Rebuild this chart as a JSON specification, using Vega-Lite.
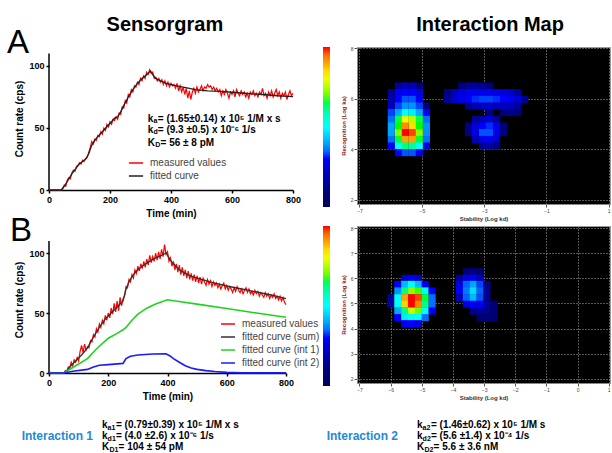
{
"$schema":"https://vega.github.io/schema/vega-lite/v6.json",
"usermeta":{"embedOptions":{"actions":false}},
"background":"white",
"padding":{"left":7,"top":14,"right":0,"bottom":0},
"columns":2,
"bounds":"flush",
"spacing":{"row":22,"column":64},
"resolve":{"scale":{"color":"independent","stroke":"independent"},"legend":{"color":"independent","stroke":"independent"}},
"config":{
 "font":"Liberation Sans",
 "view":{"stroke":null},
 "axis":{"labelFontSize":9,"labelFontWeight":"bold","labelColor":"#000","titleFontSize":10,"titleFontWeight":"bold","titleColor":"#000","domainColor":"#000","domainWidth":1.5,"tickColor":"#000","tickWidth":1.5,"tickSize":3,"labelPadding":2,"titlePadding":4,"grid":false,"labelFlush":false}
},
"datasets":{
"aMeas":[{"t":0,"c":0},{"t":5,"c":0},{"t":10,"c":0},{"t":15,"c":0},{"t":20,"c":0},{"t":25,"c":0},{"t":30,"c":0},{"t":35,"c":0},{"t":40,"c":0},{"t":45,"c":1},{"t":50,"c":4},{"t":55,"c":3},{"t":60,"c":8},{"t":65,"c":10},{"t":70,"c":9},{"t":75,"c":14},{"t":80,"c":16},{"t":85,"c":15},{"t":90,"c":19},{"t":95,"c":20},{"t":100,"c":22},{"t":105,"c":21},{"t":110,"c":24},{"t":115,"c":23},{"t":120,"c":25},{"t":125,"c":26},{"t":130,"c":30},{"t":135,"c":34},{"t":140,"c":39},{"t":145,"c":37},{"t":150,"c":41},{"t":155,"c":40},{"t":160,"c":44},{"t":165,"c":43},{"t":170,"c":47},{"t":175,"c":45},{"t":180,"c":50},{"t":185,"c":48},{"t":190,"c":53},{"t":195,"c":51},{"t":200,"c":55},{"t":205,"c":53},{"t":210,"c":57},{"t":215,"c":56},{"t":220,"c":59},{"t":225,"c":57},{"t":230,"c":62},{"t":235,"c":61},{"t":240,"c":67},{"t":245,"c":66},{"t":250,"c":72},{"t":255,"c":70},{"t":260,"c":77},{"t":265,"c":75},{"t":270,"c":81},{"t":275,"c":79},{"t":280,"c":84},{"t":285,"c":83},{"t":290,"c":87},{"t":295,"c":85},{"t":300,"c":90},{"t":305,"c":88},{"t":310,"c":92},{"t":315,"c":90},{"t":320,"c":95},{"t":325,"c":93},{"t":330,"c":97},{"t":335,"c":94},{"t":340,"c":95},{"t":345,"c":90},{"t":350,"c":91},{"t":355,"c":88},{"t":360,"c":90},{"t":365,"c":87},{"t":370,"c":89},{"t":375,"c":85},{"t":380,"c":88},{"t":385,"c":84},{"t":390,"c":87},{"t":395,"c":83},{"t":400,"c":86},{"t":405,"c":84},{"t":410,"c":85},{"t":415,"c":82},{"t":420,"c":86},{"t":425,"c":80},{"t":430,"c":84},{"t":435,"c":79},{"t":440,"c":83},{"t":445,"c":77},{"t":450,"c":82},{"t":455,"c":74},{"t":460,"c":80},{"t":465,"c":73},{"t":470,"c":79},{"t":475,"c":82},{"t":480,"c":78},{"t":485,"c":83},{"t":490,"c":79},{"t":495,"c":81},{"t":500,"c":84},{"t":505,"c":80},{"t":510,"c":83},{"t":515,"c":82},{"t":520,"c":85},{"t":525,"c":83},{"t":530,"c":84},{"t":535,"c":81},{"t":540,"c":83},{"t":545,"c":80},{"t":550,"c":82},{"t":555,"c":79},{"t":560,"c":81},{"t":565,"c":76},{"t":570,"c":80},{"t":575,"c":77},{"t":580,"c":81},{"t":585,"c":78},{"t":590,"c":74},{"t":595,"c":79},{"t":600,"c":77},{"t":605,"c":80},{"t":610,"c":75},{"t":615,"c":81},{"t":620,"c":78},{"t":625,"c":76},{"t":630,"c":80},{"t":635,"c":77},{"t":640,"c":79},{"t":645,"c":75},{"t":650,"c":78},{"t":655,"c":74},{"t":660,"c":79},{"t":665,"c":77},{"t":670,"c":80},{"t":675,"c":76},{"t":680,"c":78},{"t":685,"c":75},{"t":690,"c":79},{"t":695,"c":77},{"t":700,"c":82},{"t":705,"c":76},{"t":710,"c":78},{"t":715,"c":74},{"t":720,"c":79},{"t":725,"c":76},{"t":730,"c":80},{"t":735,"c":75},{"t":740,"c":78},{"t":745,"c":81},{"t":750,"c":76},{"t":755,"c":79},{"t":760,"c":74},{"t":765,"c":78},{"t":770,"c":76},{"t":775,"c":79},{"t":780,"c":73},{"t":785,"c":77},{"t":790,"c":80},{"t":795,"c":76},{"t":800,"c":78}],
"aFit":[{"t":0,"c":0},{"t":40,"c":0},{"t":50,"c":3},{"t":60,"c":7},{"t":75,"c":13},{"t":90,"c":18},{"t":100,"c":21},{"t":110,"c":23},{"t":120,"c":25},{"t":130,"c":29},{"t":140,"c":36},{"t":150,"c":40},{"t":160,"c":43},{"t":175,"c":47},{"t":190,"c":51},{"t":205,"c":55},{"t":215,"c":58},{"t":225,"c":59},{"t":235,"c":63},{"t":245,"c":68},{"t":260,"c":75},{"t":275,"c":81},{"t":290,"c":86},{"t":305,"c":90},{"t":320,"c":93},{"t":333,"c":96},{"t":340,"c":93},{"t":350,"c":90},{"t":365,"c":88},{"t":385,"c":86},{"t":410,"c":84.3},{"t":440,"c":83},{"t":480,"c":81},{"t":520,"c":80},{"t":560,"c":79.5},{"t":600,"c":78.8},{"t":650,"c":77.8},{"t":700,"c":77},{"t":750,"c":76},{"t":800,"c":75.3}],
"annA":[{"t":324,"c":57.3,"m":"k","sub":"a","rest":" = (1.65±0.14) x 10⁵ 1/M x s"},{"t":324,"c":48.4,"m":"k","sub":"d","rest":" = (9.3 ±0.5) x 10⁻⁶ 1/s"},{"t":324,"c":37.9,"m":"K","sub":"D","rest":" = 56 ± 8 pM"}],
"bMeas":[{"t":0,"c":2},{"t":5,"c":0},{"t":10,"c":0},{"t":15,"c":0},{"t":20,"c":0},{"t":25,"c":0},{"t":30,"c":0},{"t":35,"c":0},{"t":40,"c":0},{"t":45,"c":0},{"t":50,"c":0},{"t":55,"c":2},{"t":60,"c":1},{"t":65,"c":5},{"t":70,"c":4},{"t":75,"c":9},{"t":80,"c":6},{"t":85,"c":11},{"t":90,"c":9},{"t":95,"c":13},{"t":100,"c":10},{"t":105,"c":18},{"t":110,"c":23},{"t":115,"c":17},{"t":120,"c":24},{"t":125,"c":19},{"t":130,"c":22},{"t":135,"c":21},{"t":140,"c":27},{"t":145,"c":26},{"t":150,"c":32},{"t":155,"c":30},{"t":160,"c":37},{"t":165,"c":34},{"t":170,"c":41},{"t":175,"c":38},{"t":180,"c":44},{"t":185,"c":41},{"t":190,"c":48},{"t":195,"c":44},{"t":200,"c":50},{"t":205,"c":46},{"t":210,"c":54},{"t":215,"c":49},{"t":220,"c":58},{"t":225,"c":51},{"t":230,"c":60},{"t":235,"c":52},{"t":240,"c":63},{"t":245,"c":56},{"t":250,"c":62},{"t":255,"c":64},{"t":260,"c":72},{"t":265,"c":71},{"t":270,"c":78},{"t":275,"c":76},{"t":280,"c":82},{"t":285,"c":79},{"t":290,"c":86},{"t":295,"c":83},{"t":300,"c":89},{"t":305,"c":85},{"t":310,"c":91},{"t":315,"c":87},{"t":320,"c":93},{"t":325,"c":88},{"t":330,"c":95},{"t":335,"c":90},{"t":340,"c":98},{"t":345,"c":92},{"t":350,"c":97},{"t":355,"c":93},{"t":360,"c":100},{"t":365,"c":94},{"t":370,"c":101},{"t":375,"c":95},{"t":380,"c":103},{"t":385,"c":97},{"t":390,"c":107},{"t":395,"c":99},{"t":400,"c":101},{"t":405,"c":93},{"t":410,"c":96},{"t":415,"c":89},{"t":420,"c":93},{"t":425,"c":86},{"t":430,"c":91},{"t":435,"c":84},{"t":440,"c":90},{"t":445,"c":82},{"t":450,"c":88},{"t":455,"c":81},{"t":460,"c":86},{"t":465,"c":79},{"t":470,"c":85},{"t":475,"c":78},{"t":480,"c":83},{"t":485,"c":77},{"t":490,"c":82},{"t":495,"c":76},{"t":500,"c":81},{"t":505,"c":75},{"t":510,"c":80},{"t":515,"c":74},{"t":520,"c":79},{"t":525,"c":76},{"t":530,"c":73},{"t":535,"c":78},{"t":540,"c":74},{"t":545,"c":77},{"t":550,"c":72},{"t":555,"c":76},{"t":560,"c":73},{"t":565,"c":75},{"t":570,"c":71},{"t":575,"c":74},{"t":580,"c":70},{"t":585,"c":73},{"t":590,"c":75},{"t":595,"c":70},{"t":600,"c":73},{"t":605,"c":69},{"t":610,"c":72},{"t":615,"c":70},{"t":620,"c":67},{"t":625,"c":71},{"t":630,"c":68},{"t":635,"c":72},{"t":640,"c":69},{"t":645,"c":67},{"t":650,"c":70},{"t":655,"c":66},{"t":660,"c":69},{"t":665,"c":71},{"t":670,"c":67},{"t":675,"c":70},{"t":680,"c":66},{"t":685,"c":68},{"t":690,"c":65},{"t":695,"c":69},{"t":700,"c":66},{"t":705,"c":68},{"t":710,"c":64},{"t":715,"c":67},{"t":720,"c":65},{"t":725,"c":63},{"t":730,"c":67},{"t":735,"c":64},{"t":740,"c":66},{"t":745,"c":62},{"t":750,"c":65},{"t":755,"c":63},{"t":760,"c":66},{"t":765,"c":62},{"t":770,"c":64},{"t":775,"c":61},{"t":780,"c":64},{"t":785,"c":60},{"t":790,"c":63},{"t":795,"c":59},{"t":800,"c":57}],
"bSum":[{"t":0,"c":0},{"t":50,"c":0},{"t":60,"c":2},{"t":70,"c":5},{"t":90,"c":10},{"t":110,"c":15},{"t":130,"c":21},{"t":140,"c":25.5},{"t":150,"c":30},{"t":170,"c":38},{"t":190,"c":45},{"t":210,"c":50},{"t":230,"c":55},{"t":250,"c":60},{"t":255,"c":65},{"t":260,"c":70},{"t":270,"c":76},{"t":285,"c":82},{"t":300,"c":86},{"t":320,"c":90},{"t":340,"c":93},{"t":360,"c":96},{"t":380,"c":98},{"t":395,"c":100},{"t":400,"c":98},{"t":410,"c":94},{"t":420,"c":91},{"t":440,"c":86},{"t":460,"c":83},{"t":480,"c":80.5},{"t":500,"c":79},{"t":550,"c":75.5},{"t":600,"c":72.5},{"t":650,"c":70},{"t":700,"c":67.5},{"t":750,"c":65},{"t":800,"c":62}],
"bInt1":[{"t":0,"c":0},{"t":50,"c":0},{"t":90,"c":6},{"t":130,"c":12},{"t":160,"c":20},{"t":200,"c":29},{"t":230,"c":33},{"t":250,"c":36},{"t":260,"c":38},{"t":280,"c":44},{"t":300,"c":49},{"t":330,"c":54},{"t":360,"c":57.5},{"t":400,"c":61},{"t":450,"c":59.2},{"t":500,"c":57.4},{"t":600,"c":53.7},{"t":700,"c":50},{"t":800,"c":46.5}],
"bInt2":[{"t":0,"c":0},{"t":50,"c":0},{"t":80,"c":1.5},{"t":130,"c":3},{"t":150,"c":5},{"t":170,"c":6.5},{"t":200,"c":7},{"t":250,"c":8},{"t":255,"c":10},{"t":260,"c":12},{"t":275,"c":14},{"t":300,"c":15},{"t":350,"c":15.8},{"t":395,"c":16},{"t":410,"c":14},{"t":420,"c":12},{"t":440,"c":9},{"t":460,"c":6},{"t":480,"c":4.2},{"t":500,"c":3},{"t":530,"c":2},{"t":560,"c":1.2},{"t":600,"c":0.5},{"t":650,"c":0.1},{"t":800,"c":0.1}],
"m1":[{"x":-5.75,"y":6.5,"v":0.15},{"x":-5.53,"y":6.5,"v":0.2},{"x":-5.3,"y":6.5,"v":0.2},{"x":-5.08,"y":6.5,"v":0.12},
{"x":-5.98,"y":6.24,"v":0.15},{"x":-5.75,"y":6.24,"v":0.28},{"x":-5.53,"y":6.24,"v":0.3},{"x":-5.3,"y":6.24,"v":0.3},{"x":-5.08,"y":6.24,"v":0.25},
{"x":-5.98,"y":5.97,"v":0.18},{"x":-5.75,"y":5.97,"v":0.3},{"x":-5.53,"y":5.97,"v":0.33},{"x":-5.3,"y":5.97,"v":0.33},{"x":-5.08,"y":5.97,"v":0.28},
{"x":-5.98,"y":5.71,"v":0.2},{"x":-5.75,"y":5.71,"v":0.32},{"x":-5.53,"y":5.71,"v":0.38},{"x":-5.3,"y":5.71,"v":0.38},{"x":-5.08,"y":5.71,"v":0.32},{"x":-4.85,"y":5.71,"v":0.1},
{"x":-5.98,"y":5.45,"v":0.32},{"x":-5.75,"y":5.45,"v":0.4},{"x":-5.53,"y":5.45,"v":0.5},{"x":-5.3,"y":5.45,"v":0.48},{"x":-5.08,"y":5.45,"v":0.4},{"x":-4.85,"y":5.45,"v":0.3},
{"x":-5.98,"y":5.18,"v":0.35},{"x":-5.75,"y":5.18,"v":0.65},{"x":-5.53,"y":5.18,"v":0.8},{"x":-5.3,"y":5.18,"v":0.75},{"x":-5.08,"y":5.18,"v":0.65},{"x":-4.85,"y":5.18,"v":0.35},
{"x":-5.98,"y":4.92,"v":0.4},{"x":-5.75,"y":4.92,"v":0.67},{"x":-5.53,"y":4.92,"v":0.92},{"x":-5.3,"y":4.92,"v":0.85},{"x":-5.08,"y":4.92,"v":0.67},{"x":-4.85,"y":4.92,"v":0.38},
{"x":-5.98,"y":4.66,"v":0.4},{"x":-5.75,"y":4.66,"v":0.72},{"x":-5.53,"y":4.66,"v":1},{"x":-5.3,"y":4.66,"v":0.98},{"x":-5.08,"y":4.66,"v":0.72},{"x":-4.85,"y":4.66,"v":0.38},
{"x":-5.98,"y":4.39,"v":0.35},{"x":-5.75,"y":4.39,"v":0.66},{"x":-5.53,"y":4.39,"v":0.9},{"x":-5.3,"y":4.39,"v":0.9},{"x":-5.08,"y":4.39,"v":0.66},{"x":-4.85,"y":4.39,"v":0.35},
{"x":-5.98,"y":4.13,"v":0.3},{"x":-5.75,"y":4.13,"v":0.5},{"x":-5.53,"y":4.13,"v":0.62},{"x":-5.3,"y":4.13,"v":0.6},{"x":-5.08,"y":4.13,"v":0.5},{"x":-4.85,"y":4.13,"v":0.25},
{"x":-5.75,"y":3.87,"v":0.3},{"x":-5.53,"y":3.87,"v":0.33},{"x":-5.3,"y":3.87,"v":0.33},{"x":-5.08,"y":3.87,"v":0.28},
{"x":-3.73,"y":6.5,"v":0.1},{"x":-3.5,"y":6.5,"v":0.14},{"x":-3.28,"y":6.5,"v":0.15},{"x":-3.05,"y":6.5,"v":0.14},{"x":-2.83,"y":6.5,"v":0.1},
{"x":-4.18,"y":6.24,"v":0.12},{"x":-3.95,"y":6.24,"v":0.2},{"x":-3.73,"y":6.24,"v":0.25},{"x":-3.5,"y":6.24,"v":0.27},{"x":-3.28,"y":6.24,"v":0.28},{"x":-3.05,"y":6.24,"v":0.28},{"x":-2.83,"y":6.24,"v":0.27},{"x":-2.6,"y":6.24,"v":0.26},{"x":-2.38,"y":6.24,"v":0.25},{"x":-2.15,"y":6.24,"v":0.22},{"x":-1.93,"y":6.24,"v":0.15},
{"x":-4.18,"y":5.97,"v":0.14},{"x":-3.95,"y":5.97,"v":0.22},{"x":-3.73,"y":5.97,"v":0.27},{"x":-3.5,"y":5.97,"v":0.3},{"x":-3.28,"y":5.97,"v":0.31},{"x":-3.05,"y":5.97,"v":0.32},{"x":-2.83,"y":5.97,"v":0.32},{"x":-2.6,"y":5.97,"v":0.31},{"x":-2.38,"y":5.97,"v":0.3},{"x":-2.15,"y":5.97,"v":0.28},{"x":-1.93,"y":5.97,"v":0.24},{"x":-1.7,"y":5.97,"v":0.14},
{"x":-3.5,"y":5.71,"v":0.14},{"x":-3.28,"y":5.71,"v":0.2},{"x":-3.05,"y":5.71,"v":0.22},{"x":-2.83,"y":5.71,"v":0.22},{"x":-2.6,"y":5.71,"v":0.2},{"x":-2.38,"y":5.71,"v":0.2},{"x":-2.15,"y":5.71,"v":0.2},{"x":-1.93,"y":5.71,"v":0.16},
{"x":-2.38,"y":5.45,"v":0.1},{"x":-2.15,"y":5.45,"v":0.12},{"x":-1.93,"y":5.45,"v":0.1},{"x":-2.83,"y":5.45,"v":0.1},
{"x":-3.28,"y":5.18,"v":0.15},{"x":-3.05,"y":5.18,"v":0.2},{"x":-2.83,"y":5.18,"v":0.22},{"x":-2.6,"y":5.18,"v":0.15},
{"x":-3.5,"y":4.92,"v":0.12},{"x":-3.28,"y":4.92,"v":0.25},{"x":-3.05,"y":4.92,"v":0.3},{"x":-2.83,"y":4.92,"v":0.31},{"x":-2.6,"y":4.92,"v":0.26},{"x":-2.38,"y":4.92,"v":0.1},
{"x":-3.5,"y":4.66,"v":0.12},{"x":-3.28,"y":4.66,"v":0.26},{"x":-3.05,"y":4.66,"v":0.33},{"x":-2.83,"y":4.66,"v":0.33},{"x":-2.6,"y":4.66,"v":0.28},{"x":-2.38,"y":4.66,"v":0.12},
{"x":-3.28,"y":4.39,"v":0.2},{"x":-3.05,"y":4.39,"v":0.27},{"x":-2.83,"y":4.39,"v":0.28},{"x":-2.6,"y":4.39,"v":0.22},
{"x":-3.05,"y":4.13,"v":0.14},{"x":-2.83,"y":4.13,"v":0.16},{"x":-2.6,"y":4.13,"v":0.12}],
"m2":[{"x":-5.55,"y":6.0,"v":0.22},{"x":-5.33,"y":6.0,"v":0.28},{"x":-5.11,"y":6.0,"v":0.22},
{"x":-5.77,"y":5.76,"v":0.3},{"x":-5.55,"y":5.76,"v":0.42},{"x":-5.33,"y":5.76,"v":0.5},{"x":-5.11,"y":5.76,"v":0.42},{"x":-4.89,"y":5.76,"v":0.28},
{"x":-5.77,"y":5.5,"v":0.38},{"x":-5.55,"y":5.5,"v":0.62},{"x":-5.33,"y":5.5,"v":0.72},{"x":-5.11,"y":5.5,"v":0.68},{"x":-4.89,"y":5.5,"v":0.5},{"x":-4.67,"y":5.5,"v":0.3},
{"x":-5.99,"y":5.23,"v":0.15},{"x":-5.77,"y":5.23,"v":0.5},{"x":-5.55,"y":5.23,"v":0.9},{"x":-5.33,"y":5.23,"v":1},{"x":-5.11,"y":5.23,"v":0.98},{"x":-4.89,"y":5.23,"v":0.66},{"x":-4.67,"y":5.23,"v":0.35},
{"x":-5.99,"y":4.97,"v":0.15},{"x":-5.77,"y":4.97,"v":0.52},{"x":-5.55,"y":4.97,"v":0.86},{"x":-5.33,"y":4.97,"v":1},{"x":-5.11,"y":4.97,"v":0.92},{"x":-4.89,"y":4.97,"v":0.62},{"x":-4.67,"y":4.97,"v":0.35},
{"x":-5.77,"y":4.7,"v":0.4},{"x":-5.55,"y":4.7,"v":0.62},{"x":-5.33,"y":4.7,"v":0.76},{"x":-5.11,"y":4.7,"v":0.7},{"x":-4.89,"y":4.7,"v":0.5},{"x":-4.67,"y":4.7,"v":0.28},
{"x":-5.77,"y":4.44,"v":0.3},{"x":-5.55,"y":4.44,"v":0.48},{"x":-5.33,"y":4.44,"v":0.52},{"x":-5.11,"y":4.44,"v":0.5},{"x":-4.89,"y":4.44,"v":0.35},
{"x":-5.55,"y":4.2,"v":0.28},{"x":-5.33,"y":4.2,"v":0.3},{"x":-5.11,"y":4.2,"v":0.26},
{"x":-3.57,"y":6.26,"v":0.1},{"x":-3.35,"y":6.26,"v":0.12},{"x":-3.13,"y":6.26,"v":0.08},
{"x":-3.79,"y":6.0,"v":0.15},{"x":-3.57,"y":6.0,"v":0.25},{"x":-3.35,"y":6.0,"v":0.28},{"x":-3.13,"y":6.0,"v":0.2},
{"x":-3.79,"y":5.76,"v":0.26},{"x":-3.57,"y":5.76,"v":0.34},{"x":-3.35,"y":5.76,"v":0.4},{"x":-3.13,"y":5.76,"v":0.32},{"x":-2.91,"y":5.76,"v":0.12},
{"x":-3.79,"y":5.5,"v":0.28},{"x":-3.57,"y":5.5,"v":0.36},{"x":-3.35,"y":5.5,"v":0.46},{"x":-3.13,"y":5.5,"v":0.34},{"x":-2.91,"y":5.5,"v":0.14},
{"x":-3.79,"y":5.23,"v":0.2},{"x":-3.57,"y":5.23,"v":0.34},{"x":-3.35,"y":5.23,"v":0.42},{"x":-3.13,"y":5.23,"v":0.33},{"x":-2.91,"y":5.23,"v":0.14},
{"x":-3.57,"y":4.97,"v":0.25},{"x":-3.35,"y":4.97,"v":0.3},{"x":-3.13,"y":4.97,"v":0.28},{"x":-2.91,"y":4.97,"v":0.16},{"x":-2.69,"y":4.97,"v":0.08},
{"x":-3.35,"y":4.7,"v":0.14},{"x":-3.13,"y":4.7,"v":0.16},{"x":-2.91,"y":4.7,"v":0.14},{"x":-2.69,"y":4.7,"v":0.1},
{"x":-3.13,"y":4.44,"v":0.08},{"x":-2.91,"y":4.44,"v":0.1},{"x":-2.69,"y":4.44,"v":0.08}],
"t1":[{"line":1,"m":"k","sub":"a1","rest":" = (0.79±0.39) x 10⁵ 1/M x s"},{"line":2,"m":"k","sub":"d1","rest":" = (4.0 ±2.6) x 10⁻⁶ 1/s"},{"line":3,"m":"K","sub":"D1","rest":" = 104 ± 54 pM"}],
"t2":[{"line":1,"m":"k","sub":"a2","rest":" = (1.46±0.62) x 10⁵ 1/M s"},{"line":2,"m":"k","sub":"d2","rest":" = (5.6 ±1.4) x 10⁻⁴ 1/s"},{"line":3,"m":"K","sub":"D2","rest":" = 5.6 ± 3.6 nM"}]
},
"concat":[
{
 "width":244,"height":143,
 "layer":[
  {"data":{"values":[{"t":0,"c":0,"c2":110}]},"mark":{"type":"rule","strokeWidth":1.5,"color":"#000000"},"encoding":{"x":{"field":"t","type":"quantitative"},"y":{"field":"c","type":"quantitative"},"y2":{"field":"c2"}}},
  {"data":{"name":"aMeas"},"mark":{"type":"line","strokeWidth":1.2},
   "encoding":{
    "x":{"field":"t","type":"quantitative","scale":{"domain":[0,800],"nice":false},"axis":{"values":[0,200,400,600,800],"title":"Time (min)"}},
    "y":{"field":"c","type":"quantitative","scale":{"domain":[0,115.3],"nice":false},"axis":{"values":[0,50,100],"title":"Count rate (cps)","domain":false}},
    "stroke":{"datum":"measured values","type":"nominal","scale":{"domain":["measured values","fitted curve"],"range":["#ff0000","#222222"]},
    "legend":{"orient":"none","legendX":79,"legendY":108,"title":null,"symbolType":"stroke","symbolSize":200,"symbolStrokeWidth":1.5,"labelFontSize":10,"labelColor":"#444444","labelOffset":6,"rowPadding":0,"padding":0}}}},
  {"data":{"name":"aFit"},"mark":{"type":"line","strokeWidth":1.3},"encoding":{"x":{"field":"t","type":"quantitative"},"y":{"field":"c","type":"quantitative"},"stroke":{"datum":"fitted curve","type":"nominal"}}},
  {"data":{"name":"annA"},"mark":{"type":"text","align":"left","baseline":"middle","fontSize":10,"fontWeight":"bold"},"encoding":{"x":{"field":"t","type":"quantitative"},"y":{"field":"c","type":"quantitative"},"text":{"field":"m"}}},
  {"data":{"name":"annA"},"transform":[{"filter":"datum.m == 'k'"}],"mark":{"type":"text","align":"left","baseline":"middle","fontSize":7,"fontWeight":"bold","dx":5.6,"dy":2.5},"encoding":{"x":{"field":"t","type":"quantitative"},"y":{"field":"c","type":"quantitative"},"text":{"field":"sub"}}},
  {"data":{"name":"annA"},"transform":[{"filter":"datum.m == 'K'"}],"mark":{"type":"text","align":"left","baseline":"middle","fontSize":7,"fontWeight":"bold","dx":7.4,"dy":2.5},"encoding":{"x":{"field":"t","type":"quantitative"},"y":{"field":"c","type":"quantitative"},"text":{"field":"sub"}}},
  {"data":{"name":"annA"},"transform":[{"filter":"datum.m == 'k'"}],"mark":{"type":"text","align":"left","baseline":"middle","fontSize":10,"fontWeight":"bold","dx":10},"encoding":{"x":{"field":"t","type":"quantitative"},"y":{"field":"c","type":"quantitative"},"text":{"field":"rest"}}},
  {"data":{"name":"annA"},"transform":[{"filter":"datum.m == 'K'"}],"mark":{"type":"text","align":"left","baseline":"middle","fontSize":10,"fontWeight":"bold","dx":12.7},"encoding":{"x":{"field":"t","type":"quantitative"},"y":{"field":"c","type":"quantitative"},"text":{"field":"rest"}}},
  {"data":{"values":[{"label":"A","t":-137.7,"c":110.5}]},"mark":{"type":"text","fontSize":33,"align":"left","baseline":"alphabetic"},"encoding":{"x":{"field":"t","type":"quantitative"},"y":{"field":"c","type":"quantitative"},"text":{"field":"label"}}},
  {"data":{"values":[{"label":"Sensorgram","t":380,"c":128.2}]},"mark":{"type":"text","fontSize":20,"fontWeight":"bold","align":"center","baseline":"alphabetic"},"encoding":{"x":{"field":"t","type":"quantitative"},"y":{"field":"c","type":"quantitative"},"text":{"field":"label"}}}
 ]
},
{
 "width":253,"height":157,
 "view":{"fill":"#000000","stroke":"#9a9a9a"},
 "layer":[
  {"data":{"name":"m1"},"mark":{"type":"square","size":50,"opacity":1,"strokeWidth":0},
   "encoding":{
    "x":{"field":"x","type":"quantitative","scale":{"domain":[-7.08,1.04],"nice":false,"zero":false},"axis":{"values":[-7,-6,-5,-4,-3,-2,-1,0,1],"title":"Stability (Log kd)","labelFontSize":5,"labelFontWeight":"normal","labelColor":"#444444","titleFontSize":6,"titleColor":"#333333","tickSize":3,"tickWidth":1,"tickColor":"#555555","domainColor":"#888888","domainWidth":1,"grid":true,"gridColor":"#aaaaaa","gridDash":[1,2],"gridWidth":1,"labelPadding":1,"titlePadding":2}},
    "y":{"field":"y","type":"quantitative","scale":{"domain":[1.84,8.04],"nice":false,"zero":false},"axis":{"values":[2,3,4,5,6,7,8],"title":"Recognition (Log ka)","labelFontSize":5,"labelFontWeight":"normal","labelColor":"#444444","titleFontSize":6,"titleColor":"#8b1a1a","tickSize":3,"tickWidth":1,"tickColor":"#555555","domainColor":"#888888","domainWidth":1,"grid":true,"gridColor":"#aaaaaa","gridDash":[1,2],"gridWidth":1,"labelPadding":1,"titlePadding":4}},
    "color":{"field":"v","type":"quantitative","scale":{"domain":[0,0.1,0.3,0.5,0.67,0.82,0.92,1],"range":["#000000","#00007a","#0000ff","#00ffff","#00ff00","#ffff00","#ff8c00","#ff0000"]},
     "legend":{"orient":"left","direction":"vertical","title":null,"gradientLength":160,"gradientThickness":7,"gradientStrokeWidth":0,"labelExpr":"''","labelFontSize":1,"labelOffset":0,"offset":10,"padding":0}}
   }},
  {"data":{"values":[{"label":"Interaction Map","x":-2.81,"y":8.672}]},"mark":{"type":"text","fontSize":20,"fontWeight":"bold","align":"center","baseline":"alphabetic"},"encoding":{"x":{"field":"x","type":"quantitative"},"y":{"field":"y","type":"quantitative"},"text":{"field":"label"}}}
 ]
},
{
 "width":237,"height":147,
 "layer":[
  {"data":{"values":[{"t":0,"c":0,"c2":110}]},"mark":{"type":"rule","strokeWidth":1.5,"color":"#000000"},"encoding":{"x":{"field":"t","type":"quantitative"},"y":{"field":"c","type":"quantitative"},"y2":{"field":"c2"}}},
  {"data":{"name":"bMeas"},"mark":{"type":"line","strokeWidth":1.2},
   "encoding":{
    "x":{"field":"t","type":"quantitative","scale":{"domain":[0,800],"nice":false},"axis":{"values":[0,200,400,600,800],"title":"Time (min)"}},
    "y":{"field":"c","type":"quantitative","scale":{"domain":[0,122.5],"nice":false},"axis":{"values":[0,50,100],"title":"Count rate (cps)","domain":false}},
    "stroke":{"datum":"measured values","type":"nominal","scale":{"domain":["measured values","fitted curve (sum)","fitted curve (int 1)","fitted curve (int 2)"],"range":["#ff0000","#333333","#1ed31e","#1a1aff"]},
    "legend":{"orient":"none","legendX":171,"legendY":90,"title":null,"symbolType":"stroke","symbolSize":195,"symbolStrokeWidth":1.5,"labelFontSize":10,"labelColor":"#444444","labelOffset":6,"rowPadding":0,"padding":0}}}},
  {"data":{"name":"bSum"},"mark":{"type":"line","strokeWidth":1.3},"encoding":{"x":{"field":"t","type":"quantitative"},"y":{"field":"c","type":"quantitative"},"stroke":{"datum":"fitted curve (sum)","type":"nominal"}}},
  {"data":{"name":"bInt1"},"mark":{"type":"line","strokeWidth":1.6},"encoding":{"x":{"field":"t","type":"quantitative"},"y":{"field":"c","type":"quantitative"},"stroke":{"datum":"fitted curve (int 1)","type":"nominal"}}},
  {"data":{"name":"bInt2"},"mark":{"type":"line","strokeWidth":1.6},"encoding":{"x":{"field":"t","type":"quantitative"},"y":{"field":"c","type":"quantitative"},"stroke":{"datum":"fitted curve (int 2)","type":"nominal"}}},
  {"data":{"values":[{"label":"B","t":-131.6,"c":110}]},"mark":{"type":"text","fontSize":33,"align":"left","baseline":"alphabetic"},"encoding":{"x":{"field":"t","type":"quantitative"},"y":{"field":"c","type":"quantitative"},"text":{"field":"label"}}}
 ]
},
{
 "width":253,"height":157,
 "view":{"fill":"#000000","stroke":"#9a9a9a"},
 "layer":[
  {"data":{"name":"m2"},"mark":{"type":"square","size":50,"opacity":1,"strokeWidth":0},
   "encoding":{
    "x":{"field":"x","type":"quantitative","scale":{"domain":[-7.08,1.04],"nice":false,"zero":false},"axis":{"values":[-7,-6,-5,-4,-3,-2,-1,0,1],"title":"Stability (Log kd)","labelFontSize":5,"labelFontWeight":"normal","labelColor":"#444444","titleFontSize":6,"titleColor":"#333333","tickSize":3,"tickWidth":1,"tickColor":"#555555","domainColor":"#888888","domainWidth":1,"grid":true,"gridColor":"#aaaaaa","gridDash":[1,2],"gridWidth":1,"labelPadding":1,"titlePadding":2}},
    "y":{"field":"y","type":"quantitative","scale":{"domain":[1.84,8.08],"nice":false,"zero":false},"axis":{"values":[2,3,4,5,6,7,8],"title":"Recognition (Log ka)","labelFontSize":5,"labelFontWeight":"normal","labelColor":"#444444","titleFontSize":6,"titleColor":"#8b1a1a","tickSize":3,"tickWidth":1,"tickColor":"#555555","domainColor":"#888888","domainWidth":1,"grid":true,"gridColor":"#aaaaaa","gridDash":[1,2],"gridWidth":1,"labelPadding":1,"titlePadding":4}},
    "color":{"field":"v","type":"quantitative","scale":{"domain":[0,0.1,0.3,0.5,0.67,0.82,0.92,1],"range":["#000000","#00007a","#0000ff","#00ffff","#00ff00","#ffff00","#ff8c00","#ff0000"]},
     "legend":{"orient":"left","direction":"vertical","title":null,"gradientLength":160,"gradientThickness":7,"gradientStrokeWidth":0,"labelExpr":"''","labelFontSize":1,"labelOffset":0,"offset":10,"padding":0}}
   }}
 ]
},
{
 "width":106,"height":45,
 "data":{"name":"t1"},
 "encoding":{"y":{"field":"line","type":"ordinal","scale":{"type":"point","range":[20,42],"padding":0},"axis":null}},
 "layer":[
  {"mark":{"type":"text","align":"left","baseline":"middle","fontSize":10,"fontWeight":"bold"},"encoding":{"text":{"field":"m"}}},
  {"transform":[{"filter":"datum.m == 'k'"}],"mark":{"type":"text","align":"left","baseline":"middle","fontSize":7,"fontWeight":"bold","dx":5.6,"dy":2.5},"encoding":{"text":{"field":"sub"}}},
  {"transform":[{"filter":"datum.m == 'K'"}],"mark":{"type":"text","align":"left","baseline":"middle","fontSize":7,"fontWeight":"bold","dx":7.4,"dy":2.5},"encoding":{"text":{"field":"sub"}}},
  {"transform":[{"filter":"datum.m == 'k'"}],"mark":{"type":"text","align":"left","baseline":"middle","fontSize":10,"fontWeight":"bold","dx":14},"encoding":{"text":{"field":"rest"}}},
  {"transform":[{"filter":"datum.m == 'K'"}],"mark":{"type":"text","align":"left","baseline":"middle","fontSize":10,"fontWeight":"bold","dx":16.6},"encoding":{"text":{"field":"rest"}}},
  {"transform":[{"filter":"datum.line == 2"}],"mark":{"type":"text","text":"Interaction 1","align":"right","baseline":"middle","fontSize":12,"fontWeight":"bold","color":"#1e8ad6","dx":-9}}
 ]
},
{
 "width":120,"height":45,
 "data":{"name":"t2"},
 "encoding":{"y":{"field":"line","type":"ordinal","scale":{"type":"point","range":[20,42],"padding":0},"axis":null}},
 "layer":[
  {"mark":{"type":"text","align":"left","baseline":"middle","fontSize":10,"fontWeight":"bold"},"encoding":{"text":{"field":"m"}}},
  {"transform":[{"filter":"datum.m == 'k'"}],"mark":{"type":"text","align":"left","baseline":"middle","fontSize":7,"fontWeight":"bold","dx":5.6,"dy":2.5},"encoding":{"text":{"field":"sub"}}},
  {"transform":[{"filter":"datum.m == 'K'"}],"mark":{"type":"text","align":"left","baseline":"middle","fontSize":7,"fontWeight":"bold","dx":7.4,"dy":2.5},"encoding":{"text":{"field":"sub"}}},
  {"transform":[{"filter":"datum.m == 'k'"}],"mark":{"type":"text","align":"left","baseline":"middle","fontSize":10,"fontWeight":"bold","dx":14},"encoding":{"text":{"field":"rest"}}},
  {"transform":[{"filter":"datum.m == 'K'"}],"mark":{"type":"text","align":"left","baseline":"middle","fontSize":10,"fontWeight":"bold","dx":16.6},"encoding":{"text":{"field":"rest"}}},
  {"transform":[{"filter":"datum.line == 2"}],"mark":{"type":"text","text":"Interaction 2","align":"right","baseline":"middle","fontSize":12,"fontWeight":"bold","color":"#1e8ad6","dx":-19}}
 ]
}
]
}
